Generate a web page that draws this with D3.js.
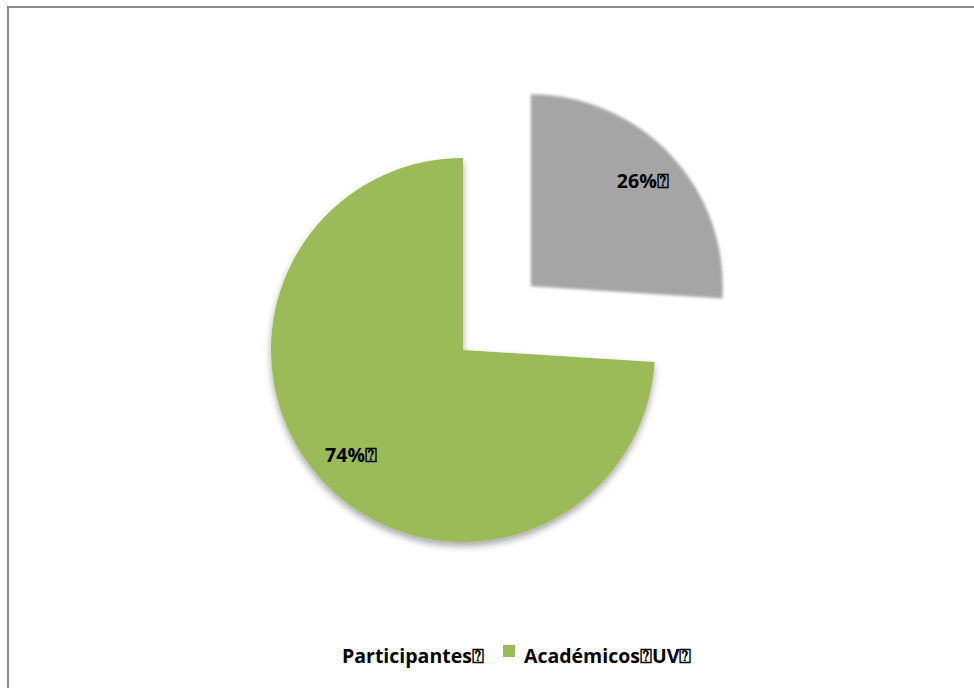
<!DOCTYPE html>
<html>
<head>
<meta charset="utf-8">
<script src="https://cdn.jsdelivr.net/npm/d3@7"></script>
<style>
  body { margin: 0; background: #fff; }
  svg { display: block; }
</style>
</head>
<body>
<svg width="974" height="688"></svg>
<script>
var categories = ["Participantes", "Académicos UV"];
var values = [26, 74];
var colors = ["#a5a5a5", "#9bbb59"];
var percentLabels = ["26%", "74%"];
var missingGlyph = "\u2370";

var svg = d3.select("svg");

// chart frame
svg.append("rect")
    .attr("x", 8).attr("y", 7)
    .attr("width", 972).attr("height", 700)
    .attr("fill", "none")
    .attr("stroke", "#8c8c8c")
    .attr("stroke-width", 2);

var defs = svg.append("defs");
var shadow = defs.append("filter").attr("id", "shadow")
    .attr("x", "-20%").attr("y", "-20%").attr("width", "140%").attr("height", "140%");
shadow.append("feDropShadow")
    .attr("dx", 0).attr("dy", 4)
    .attr("stdDeviation", 3.5)
    .attr("flood-color", "#000")
    .attr("flood-opacity", 0.35);
var soft = defs.append("filter").attr("id", "soft")
    .attr("x", "-10%").attr("y", "-10%").attr("width", "120%").attr("height", "120%");
soft.append("feGaussianBlur").attr("stdDeviation", 1.6);

var cx = 463, cy = 350, radius = 192, explode = 93;

var pie = d3.pie().sort(null);
var arcs = pie(values);
var arc = d3.arc().innerRadius(0).outerRadius(radius);
var labelArc = d3.arc().innerRadius(radius * 0.8).outerRadius(radius * 0.8);

var g = svg.append("g").attr("transform", "translate(" + cx + "," + cy + ")");

var slices = g.selectAll(".slice")
    .data(arcs)
    .enter().append("g")
    .attr("class", "slice")
    .attr("transform", function (d, i) {
        if (i !== 0) return null;
        var mid = (d.startAngle + d.endAngle) / 2;
        return "translate(" + (Math.sin(mid) * explode) + "," + (-Math.cos(mid) * explode) + ")";
    });

slices.append("path")
    .attr("d", arc)
    .attr("fill", function (d, i) { return colors[i]; })
    .attr("filter", function (d, i) { return i === 0 ? "url(#soft)" : "url(#shadow)"; });

slices.append("text")
    .attr("transform", function (d) {
        return "translate(" + labelArc.centroid(d) + ")";
    })
    .attr("dy", "0.35em")
    .attr("text-anchor", "middle")
    .attr("font-family", "'Open Sans', 'DejaVu Sans', sans-serif")
    .attr("font-weight", "bold")
    .attr("font-size", 19.5)
    .attr("fill", "#000")
    .text(function (d, i) { return percentLabels[i] + missingGlyph; });

// legend
var legend = svg.append("g")
    .attr("font-family", "'Open Sans', 'DejaVu Sans', sans-serif")
    .attr("font-weight", "bold")
    .attr("font-size", 19.5)
    .attr("fill", "#000");

legend.append("text")
    .attr("x", 342).attr("y", 663)
    .text(categories[0] + missingGlyph);

legend.append("rect")
    .attr("x", 503).attr("y", 645)
    .attr("width", 12).attr("height", 12)
    .attr("fill", colors[1]);

legend.append("text")
    .attr("x", 524).attr("y", 663)
    .text(categories[1].replace(" ", missingGlyph) + missingGlyph);
</script>
</body>
</html>
